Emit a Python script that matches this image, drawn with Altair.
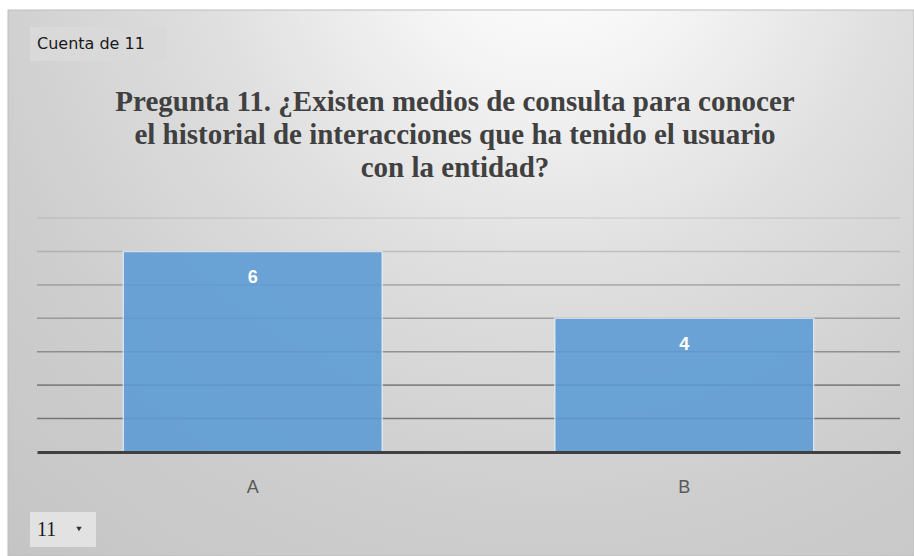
import altair as alt
import pandas as pd

categories = ["A", "B"]
counts = [6, 4]
grid_values = [1, 2, 3, 4, 5, 6, 7]
title_lines = [
    "Pregunta 11. ¿Existen medios de consulta para conocer",
    "el historial de interacciones que ha tenido el usuario",
    "con la entidad?",
]
field_button = "Cuenta de 11"
filter_button = "11"

W, H = 863, 234
ymax = 7

bars_df = pd.DataFrame({"cat": categories, "n": counts})
grid_df = pd.DataFrame({"v": grid_values})
one = alt.Data(values=[{"k": 1}])

yscale = alt.Scale(domain=[0, ymax], nice=False, zero=True)
xscale = alt.Scale(domain=categories, paddingInner=0.4, paddingOuter=0.2)

bg = alt.Chart(one).mark_rect(
    fill={
        "gradient": "radial",
        "x1": 0.6, "y1": 0.1, "r1": 0,
        "x2": 0.6, "y2": 0.1, "r2": 1.0,
        "stops": [
            {"offset": 0, "color": "#ffffff"},
            {"offset": 0.15, "color": "#f6f6f6"},
            {"offset": 0.4, "color": "#dedede"},
            {"offset": 0.65, "color": "#cecece"},
            {"offset": 1, "color": "#c2c2c2"},
        ],
    },
    stroke="#bdbdbd", strokeWidth=1,
).encode(x=alt.value(-29), x2=alt.value(877), y=alt.value(-208), y2=alt.value(338))

title = alt.Chart(one).mark_text(
    text=title_lines, font="Liberation Serif", fontSize=29, fontWeight="bold",
    color="#404040", lineHeight=33, align="center", baseline="middle",
).encode(x=alt.value(418), y=alt.value(-116))

btn1 = alt.Chart(one).mark_rect(fill="#d9d9d9").encode(
    x=alt.value(-7), x2=alt.value(129), y=alt.value(-191), y2=alt.value(-157))
btn1_txt = alt.Chart(one).mark_text(
    text=field_button, font="DejaVu Sans", fontSize=16, color="#1a1a1a",
    align="left", baseline="middle").encode(x=alt.value(0), y=alt.value(-174))

btn2 = alt.Chart(one).mark_rect(fill="#e2e2e2").encode(
    x=alt.value(-7), x2=alt.value(59), y=alt.value(294), y2=alt.value(329))
btn2_txt = alt.Chart(one).mark_text(
    text=filter_button, font="Liberation Serif", fontSize=20, color="#1a1a1a",
    align="left", baseline="middle").encode(x=alt.value(0), y=alt.value(312))
btn2_tri = alt.Chart(one).mark_point(
    shape="triangle-down", filled=True, size=30, color="#333333", opacity=1
).encode(x=alt.value(42), y=alt.value(311))

grid = alt.Chart(grid_df).mark_rule(color="#666666", strokeWidth=1.6).encode(
    y=alt.Y("v:Q", scale=yscale, axis=None),
    opacity=alt.Opacity("v:Q", scale=alt.Scale(domain=[1, 7], range=[0.85, 0.15]), legend=None),
)

bars = alt.Chart(bars_df).mark_bar(
    color="#5b9bd5", opacity=0.88, stroke="#eaf2fb", strokeWidth=1.5, strokeOpacity=0.8
).encode(
    x=alt.X("cat:N", scale=xscale, sort=categories,
            axis=alt.Axis(title=None, ticks=False, domain=True, domainColor="#404040",
                          domainWidth=3, labelAngle=0, labelFont="Liberation Sans",
                          labelFontSize=18, labelColor="#595959", labelPadding=26,
                          grid=False, zindex=1)),
    y=alt.Y("n:Q", scale=yscale, axis=None),
)

labels = alt.Chart(bars_df).mark_text(
    color="white", font="Liberation Sans", fontWeight="bold", fontSize=18,
    baseline="middle", dy=27,
).encode(
    x=alt.X("cat:N", scale=xscale, sort=categories),
    y=alt.Y("n:Q", scale=yscale),
    text="n:Q",
)

chart = alt.layer(bg, title, btn1, btn2, grid, bars, labels, btn1_txt, btn2_txt, btn2_tri).properties(
    width=W, height=H,
    autosize=alt.AutoSizeParams(type="none"),
    padding={"left": 37, "top": 218, "right": 14, "bottom": 104},
    background="white",
).configure_view(stroke=None)

chart.save("out.html", embed_options={"renderer": "svg", "actions": False})
